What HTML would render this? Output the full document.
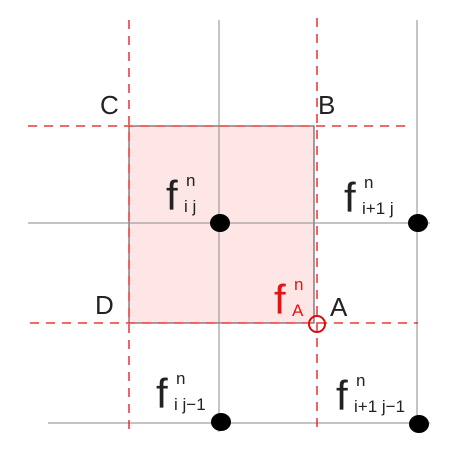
<!DOCTYPE html>
<html><head><meta charset="utf-8"><style>
html,body{margin:0;padding:0;background:#fff;}
svg{display:block;}
text{font-family:"Liberation Sans",sans-serif;font-weight:normal;}
</style></head><body>
<svg width="450" height="450" viewBox="0 0 450 450">
<rect x="129" y="126" width="185" height="197" fill="#ffe6e6" stroke="#444" stroke-width="1"/>
<g stroke="#8a8a8a" stroke-width="1">
<line x1="219" y1="20" x2="219" y2="432"/>
<line x1="417" y1="20" x2="417" y2="432"/>
<line x1="28" y1="223" x2="430" y2="223"/>
<line x1="48" y1="423" x2="430" y2="423"/>
</g>
<g stroke="#e01515" stroke-width="1.3" stroke-dasharray="9,7">
<line x1="129" y1="20" x2="129" y2="432"/>
<line x1="317" y1="18" x2="317" y2="430"/>
<line x1="28" y1="126" x2="412" y2="126"/>
<line x1="30" y1="323" x2="418" y2="323"/>
</g>
<g fill="#000">
<ellipse cx="220" cy="223" rx="10" ry="9"/>
<ellipse cx="418" cy="223" rx="10" ry="9"/>
<ellipse cx="221" cy="422" rx="10" ry="9"/>
<ellipse cx="419" cy="424" rx="10" ry="9"/>
</g>
<circle cx="317" cy="324" r="8" fill="none" stroke="#d01010" stroke-width="2"/>
<g fill="#222" font-size="26">
<text x="100" y="114">C</text>
<text x="318" y="114">B</text>
<text x="95" y="314">D</text>
<text x="330" y="316">A</text>
</g>
<g fill="#222">
<g><text x="166" y="210" font-size="42">f</text><text x="186" y="186" font-size="17">n</text><text x="184" y="212" font-size="17">i j</text></g>
<g><text x="344" y="212" font-size="42">f</text><text x="364" y="188" font-size="17">n</text><text x="362" y="214" font-size="17">i+1 j</text></g>
<g><text x="156" y="408" font-size="42">f</text><text x="176" y="384" font-size="17">n</text><text x="174" y="410" font-size="17">i j−1</text></g>
<g><text x="336" y="410" font-size="42">f</text><text x="356" y="386" font-size="17">n</text><text x="354" y="412" font-size="17">i+1 j−1</text></g>
</g>
<g fill="#e01515"><text x="274" y="314" font-size="42">f</text><text x="294" y="290" font-size="17">n</text><text x="292" y="316" font-size="17">A</text></g>
</svg>
</body></html>
